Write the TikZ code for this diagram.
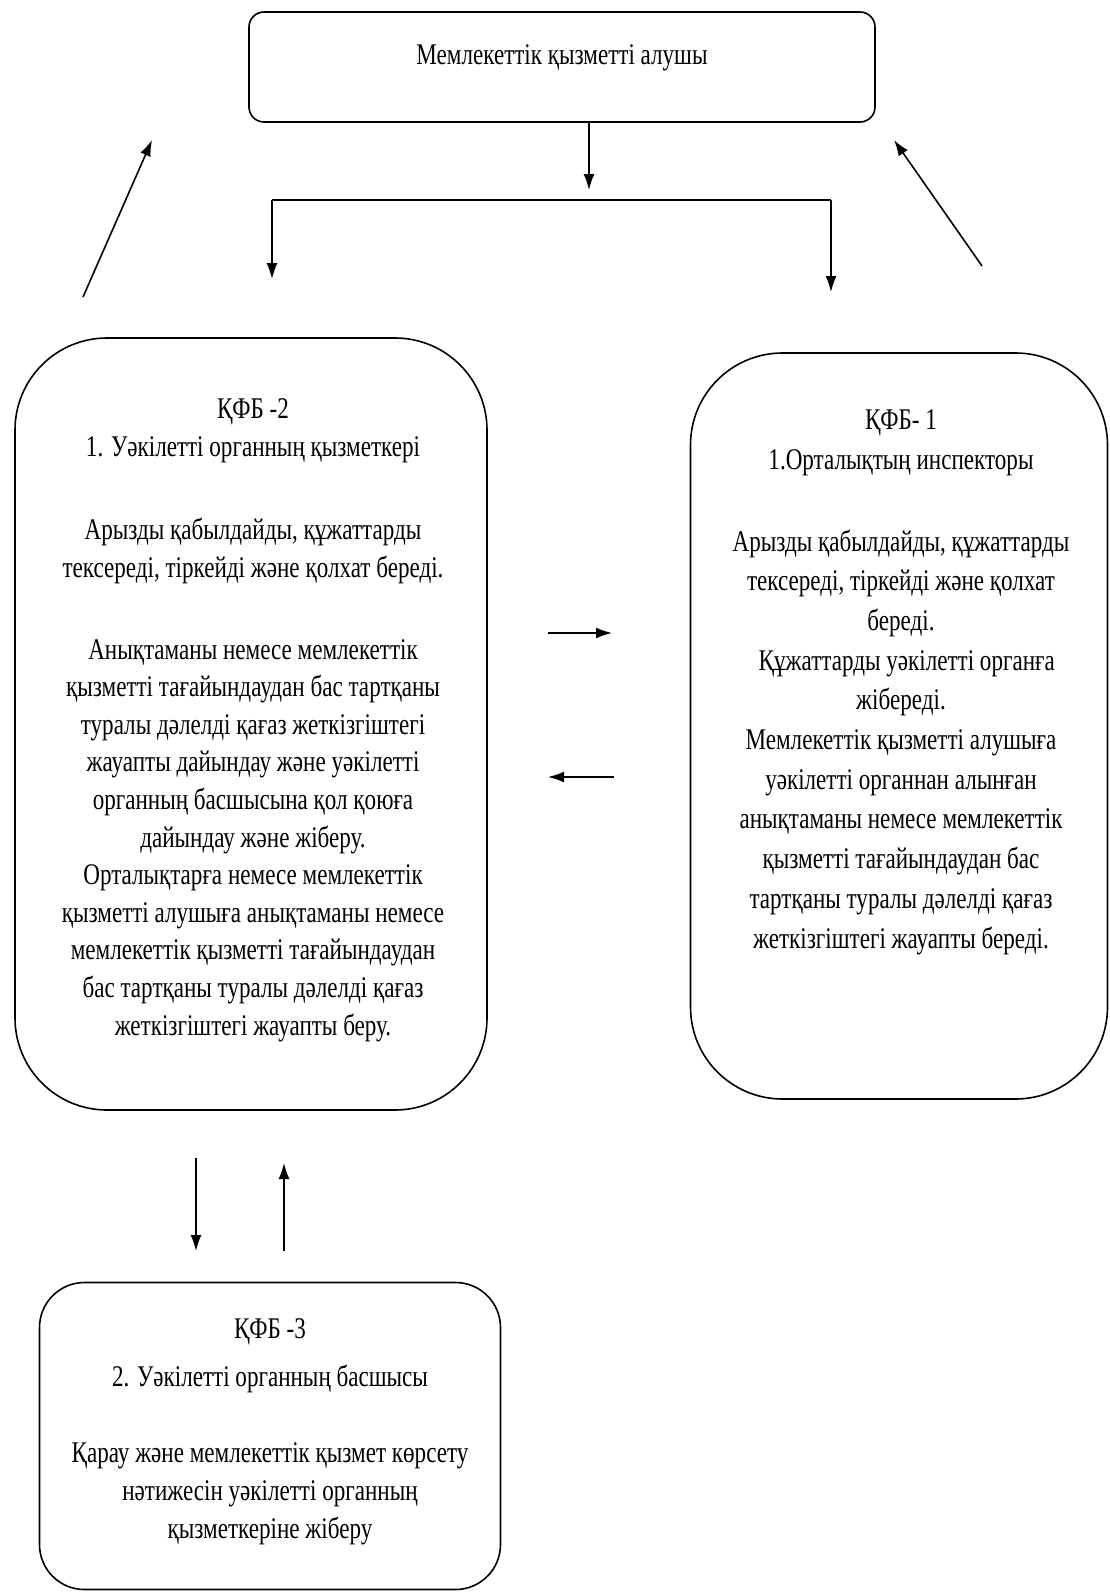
\documentclass[tikz,border=0pt]{standalone}
\usepackage{fontspec}
\setmainfont{Liberation Serif}[FakeStretch=0.77]
\usetikzlibrary{arrows.meta,calc}

\begin{document}
\begin{tikzpicture}[x=1pt,y=-1pt,line width=1.6pt,
  box/.style={draw,rounded corners=#1,inner sep=0pt},
  txt/.style={align=center,inner sep=0pt,anchor=north},
  arr/.style={-{Latex[length=16pt,width=11pt]}}]

\useasboundingbox (0,0) rectangle (1110,1592);

\node[box=15pt,minimum width=626pt,minimum height=110pt] (recv) at (562,67) {};
\node[txt,font={\fontsize{30}{36}\selectfont}] (recvtxt) at (562,44) {Мемлекеттік қызметті алушы};

\node[box=92pt,minimum width=472pt,minimum height=772pt] (pkg2) at (251,724) {};
\node[txt,font={\fontsize{30}{37.6}\selectfont}] (pkg2txt) at (253,398) {ҚФБ -2\\
1.  Уәкілетті органның қызметкері\\[46pt]
Арызды қабылдайды, құжаттарды\\
тексереді, тіркейді және қолхат береді.\\[44pt]
Анықтаманы немесе мемлекеттік\\
қызметті тағайындаудан бас тартқаны\\
туралы дәлелді қағаз жеткізгіштегі\\
жауапты дайындау және уәкілетті\\
органның басшысына қол қоюға\\
дайындау және жіберу.\\
Орталықтарға немесе мемлекеттік\\
қызметті алушыға анықтаманы немесе\\
мемлекеттік қызметті тағайындаудан\\
бас тартқаны туралы дәлелді қағаз\\
жеткізгіштегі жауапты беру.};

\node[box=92pt,minimum width=417pt,minimum height=746pt] (pkg1) at (899,726) {};
\node[txt,font={\fontsize{30}{39.7}\selectfont}] (pkg1txt) at (901,409) {ҚФБ- 1\\
1.Орталықтың  инспекторы\\[42pt]
Арызды қабылдайды, құжаттарды\\
тексереді, тіркейді және қолхат\\
береді.\\
\ \ Құжаттарды уәкілетті органға\\
жібереді.\\
Мемлекеттік қызметті алушыға\\
уәкілетті органнан алынған\\
анықтаманы немесе мемлекеттік\\
қызметті тағайындаудан бас\\
тартқаны туралы дәлелді қағаз\\
жеткізгіштегі жауапты береді.};

\node[box=45pt,minimum width=461pt,minimum height=307pt] (pkg3) at (270,1436) {};
\node[txt,font={\fontsize{30}{38}\selectfont}] (pkg3txt) at (270,1318) {ҚФБ -3\\[10pt]
2.  Уәкілетті органның басшысы\\[38pt]
Қарау және мемлекеттік қызмет көрсету\\
нәтижесін уәкілетті органның\\
қызметкеріне жіберу};

\coordinate (split) at (589,190);
\coordinate (bl) at (272,200);
\coordinate (br) at (831,200);
\coordinate (bltip) at (272,279);
\coordinate (brtip) at (831,292);
\coordinate (lfrom) at (83,297);
\coordinate (lto) at (152,140);
\coordinate (rfrom) at (982,266);
\coordinate (rto) at (894,140);
\coordinate (mr1) at (548,633);
\coordinate (mr2) at (612,633);
\coordinate (ml1) at (614,777);
\coordinate (ml2) at (548,777);
\coordinate (dn1) at (196,1158);
\coordinate (dn2) at (196,1251);
\coordinate (up1) at (284,1251);
\coordinate (up2) at (284,1163);

\draw[arr] (recv.south -| split) -- (split);
\draw[arr] (bl) -- (bltip);
\draw (bl) -- (br);
\draw[arr] (br) -- (brtip);
\draw[arr] (lfrom) -- (lto);
\draw[arr] (rfrom) -- (rto);
\draw[arr] (mr1) -- (mr2);
\draw[arr] (ml1) -- (ml2);
\draw[arr] (dn1) -- (dn2);
\draw[arr] (up1) -- (up2);

\end{tikzpicture}
\end{document}
